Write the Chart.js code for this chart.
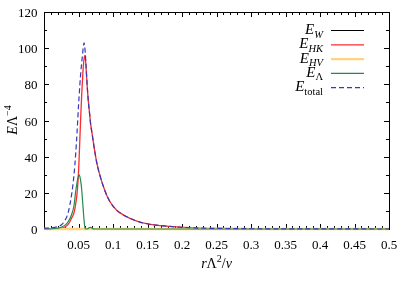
<!DOCTYPE html>
<html><head><meta charset="utf-8">
<script src="https://cdn.jsdelivr.net/npm/chart.js@4.4.0/dist/chart.umd.min.js"></script>
<style>html,body{margin:0;padding:0;background:#fff;}</style>
</head><body>
<canvas id="c" width="407" height="284"></canvas>
<script>
// ---- data ----
const xValues = [0,0.01,0.02,0.025,0.03,0.035,0.04,0.0435,0.046,0.048,0.049,0.05,0.051,0.052,0.053,0.0546,0.056,0.057,0.058,0.0595,0.061,0.0625,0.0642,0.066,0.0676,0.07,0.0715,0.074,0.0763,0.08,0.0884,0.095,0.105,0.115,0.1246,0.139,0.1536,0.168,0.197,0.226,0.26,0.3,0.35,0.4,0.45,0.5];
const eTotal = [0.5,0.6,1.3,2.2,4.5,9,19,30,42,54,61,68,74,80,85,92,97,101,103,99,90,80,71,64,58,52,48,42,37,31,21,15.5,10.5,7.8,5.9,3.8,2.6,1.9,1.0,0.5,0.3,0.15,0.08,0.04,0.02,0.01];
const eHK    = [0,0.1,0.3,0.6,1,2.5,6,9,14,20,25,31,40,50,60,74,84,90,94,96,89,79.5,71,64,58,52,48,42,37,31,21,15.5,10.5,7.8,5.9,3.8,2.6,1.9,1.0,0.5,0.3,0.15,0.08,0.04,0.02,0.01];
const eLambda= [0,0.1,0.4,1,2,4,8,13,21,26,28,29.5,30,29,27,22,15,10,5,0.5,0,0,0.3,0.8,0.9,0.4,0.1,0,0,0,0,0,0,0,0,0,0,0,0,0,0,0,0,0,0,0];
const eW     = xValues.map(() => 0);
const eHV    = xValues.map(() => 0);
const xTickValues = [0.05,0.1,0.15,0.2,0.25,0.3,0.35,0.4,0.45,0.5];
const xTickLabels = ['0.05','0.1','0.15','0.2','0.25','0.3','0.35','0.4','0.45','0.5'];
const yTickValues = [0,20,40,60,80,100,120];
const yTickLabels = ['0','20','40','60','80','100','120'];
const seriesNames = ['E_W','E_HK','E_HV','E_Λ','E_total'];

const SERIF = '"Liberation Serif","DejaVu Serif",serif';
const toXY = ys => ys.map((y,i) => ({x:xValues[i], y:y}));

const styles = [
  {color:'#000000', width:1.2, dash:[]},
  {color:'#ff2a2a', width:1.3, dash:[]},
  {color:'#ffd480', width:2.4, dash:[]},
  {color:'#228b4c', width:1.2, dash:[]},
  {color:'#3838b8', width:1.2, dash:[5,3]}
];
const seriesData = [eW, eHK, eHV, eLambda, eTotal];

function drawRich(ctx, parts, x, y, align){
  let total = 0;
  parts.forEach(p => { ctx.font = (p.italic?'italic ':'') + p.size + 'px ' + SERIF; p.w = ctx.measureText(p.t).width; total += p.w; });
  let cx = align === 'right' ? x - total : (align === 'center' ? x - total/2 : x);
  ctx.textAlign = 'left'; ctx.textBaseline = 'alphabetic';
  parts.forEach(p => { ctx.font = (p.italic?'italic ':'') + p.size + 'px ' + SERIF; ctx.fillText(p.t, cx, y + (p.dy||0)); cx += p.w; });
}

const decor = {
  id:'decor',
  beforeDatasetsDraw(chart){
    const ctx = chart.ctx, a = chart.chartArea, xs = chart.scales.x, ys = chart.scales.y;
    ctx.save();
    ctx.strokeStyle = '#000'; ctx.lineWidth = 1;
    ctx.strokeRect(Math.round(a.left)+0.5, Math.round(a.top)+0.5, Math.round(a.right-a.left), Math.round(a.bottom-a.top));
    ctx.beginPath();
    for (let v = 0; v <= 0.5001; v += 0.01){
      const major = Math.abs(v/0.05 - Math.round(v/0.05)) < 1e-6;
      const L = major ? 5 : 3;
      const px = Math.round(xs.getPixelForValue(v)) + 0.5;
      ctx.moveTo(px, a.bottom); ctx.lineTo(px, a.bottom - L);
      ctx.moveTo(px, a.top); ctx.lineTo(px, a.top + L);
    }
    for (let v = 0; v <= 120; v += 10){
      const major = v % 20 === 0;
      const L = major ? 5 : 3;
      const py = Math.round(ys.getPixelForValue(v)) + 0.5;
      ctx.moveTo(a.left, py); ctx.lineTo(a.left + L, py);
      ctx.moveTo(a.right, py); ctx.lineTo(a.right - L, py);
    }
    ctx.stroke();
    // tick labels
    ctx.fillStyle = '#000';
    ctx.font = '13px ' + SERIF;
    ctx.textBaseline = 'alphabetic';
    ctx.textAlign = 'center';
    xTickValues.forEach((v,i) => ctx.fillText(xTickLabels[i], xs.getPixelForValue(v), 249));
    ctx.textAlign = 'right';
    yTickValues.forEach((v,i) => ctx.fillText(yTickLabels[i], 37.5, ys.getPixelForValue(v) + 5));
    ctx.restore();
  },
  afterDraw(chart){
    const ctx = chart.ctx, a = chart.chartArea;
    ctx.save();
    ctx.fillStyle = '#000';
    // x axis label
    drawRich(ctx, [
      {t:'r', italic:true, size:14},
      {t:'Λ', italic:false, size:14},
      {t:'2', italic:false, size:10, dy:-6},
      {t:'/', italic:false, size:14},
      {t:'v', italic:true, size:14}
    ], (a.left + a.right)/2, 268, 'center');
    // y axis label
    ctx.save();
    ctx.translate(16.5, 120);
    ctx.rotate(-Math.PI/2);
    drawRich(ctx, [
      {t:'E', italic:true, size:14},
      {t:'Λ', italic:false, size:14},
      {t:'−4', italic:false, size:10, dy:-6}
    ], 0, 0, 'center');
    ctx.restore();
    // legend
    const y0 = 30.5, step = 14.3, textRight = 323, l1 = 331, l2 = 364;
    seriesNames.forEach((name, i) => {
      const ly = y0 + i*step;
      const parts = name.split('_');
      const sub = parts[1];
      const subItalic = (sub === 'W' || sub === 'HK' || sub === 'HV');
      ctx.fillStyle = '#000';
      drawRich(ctx, [
        {t:parts[0], italic:true, size:15, dy:0},
        {t:sub, italic:subItalic, size:10.5, dy:3.5}
      ], textRight, ly + 3.5, 'right');
      ctx.beginPath();
      ctx.strokeStyle = styles[i].color; ctx.lineWidth = styles[i].width;
      ctx.setLineDash(styles[i].dash);
      ctx.moveTo(l1, ly); ctx.lineTo(l2, ly); ctx.stroke();
      ctx.setLineDash([]);
    });
    ctx.restore();
  }
};

new Chart(document.getElementById('c'), {
  type:'line',
  data:{
    datasets: seriesData.map((d,i) => ({
      label: seriesNames[i],
      data: toXY(d),
      borderColor: styles[i].color,
      borderWidth: styles[i].width,
      borderDash: styles[i].dash,
      pointRadius: 0,
      fill: false,
      cubicInterpolationMode: 'monotone',
      clip: 3,
      order: 5 - i
    }))
  },
  options:{
    responsive:false,
    devicePixelRatio:1,
    animation:false,
    layout:{padding:{left:0, right:18, top:12, bottom:0}},
    plugins:{legend:{display:false}, tooltip:{enabled:false}},
    scales:{
      x:{
        type:'linear', min:0, max:0.5,
        afterFit: s => { s.height = 55; },
        grid:{display:false},
        border:{display:false},
        ticks:{display:false}
      },
      y:{
        type:'linear', min:0, max:120,
        afterFit: s => { s.width = 44; },
        grid:{display:false},
        border:{display:false},
        ticks:{display:false}
      }
    }
  },
  plugins:[decor]
});
</script>
</body></html>
